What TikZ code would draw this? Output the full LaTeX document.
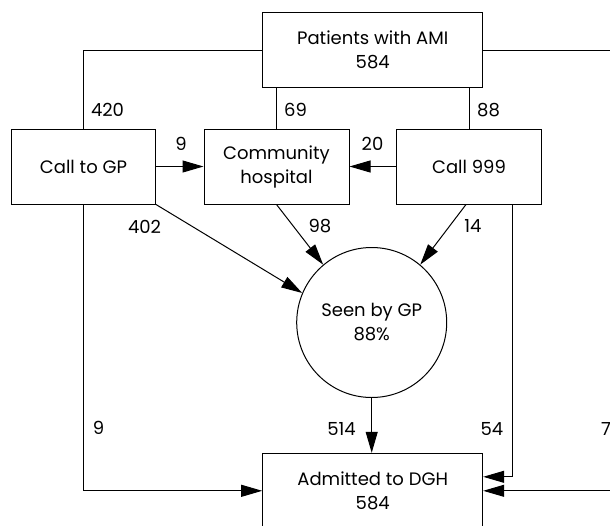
\documentclass[tikz,border=0pt]{standalone}
\usepackage{fontspec}
\setmainfont{Poppins}
\usetikzlibrary{arrows.meta}

\begin{document}
\begin{tikzpicture}[x=1pt,y=-1pt,line width=1pt,
    font=\fontsize{18}{24}\selectfont,
    stage/.style={draw,minimum width=145pt,minimum height=75pt,align=center,inner sep=0pt},
    count/.style={inner sep=0pt},
    flow/.style={-{Triangle[length=21pt,width=12pt]}}]
  \path[use as bounding box,clip] (0,0) rectangle (610,525);

  \node[stage,minimum width=220pt](pat) at (372.7,50) {Patients with AMI\\584};
  \node[stage,minimum width=144pt](gp) at (83.5,166.5) {Call to GP};
  \node[stage](comm) at (276.5,166.5) {Community\\hospital};
  \node[stage](ems) at (469,166.5) {Call 999};
  \node[draw,circle,minimum size=150pt,align=center,inner sep=0pt](seen) at (371.7,322.5) {Seen by GP\\88\%};
  \node[stage,minimum width=220pt](adm) at (372.7,490.8) {Admitted to DGH\\584};
  \coordinate (rim) at (618,50);

  % first call
  \draw (pat.west) -| (gp.north);
  \draw (pat.south -| comm.north) -- (comm.north);
  \draw (pat.south -| ems.north) -- (ems.north);
  \draw[flow] (pat.east) -- (rim) |- (adm.east);
  \node[count](n420) at (107.5,110) {420};
  \node[count](n69) at (295.5,110) {69};
  \node[count](n88) at (488.5,110) {88};
  \node[count](n7) at (606,429) {7};

  % transfers
  \draw[flow] (gp.east) -- (comm.west);
  \draw[flow] (ems.west) -- (comm.east);
  \node[count](n9a) at (181,144) {9};
  \node[count](n20) at (372.5,144) {20};

  % to the GP
  \draw[flow] (gp.south east) -- (seen.157);
  \draw[flow] (comm.south) -- (seen.130);
  \draw[flow] ([xshift=-3pt]ems.south) -- (seen.50);
  \node[count](n402) at (144.5,226.5) {402};
  \node[count](n98) at (320,226) {98};
  \node[count](n14) at (473,226) {14};

  % admissions
  \draw[flow] (gp.south) |- (adm.west);
  \draw[flow] (seen.south) -- (seen.south |- adm.north);
  \draw[flow] ([xshift=-29.4pt]ems.south east) |- ([yshift=14pt]adm.east);
  \node[count](n9b) at (98.5,428) {9};
  \node[count](n514) at (341.5,429) {514};
  \node[count](n54) at (492,429) {54};
\end{tikzpicture}
\end{document}
